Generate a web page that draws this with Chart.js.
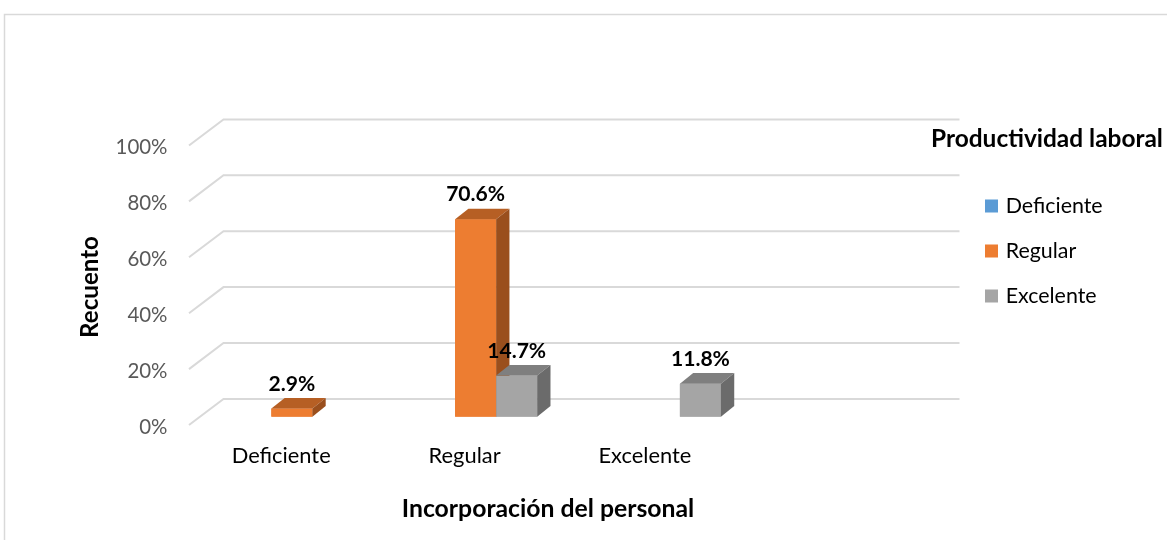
<!DOCTYPE html>
<html>
<head>
<meta charset="utf-8">
<script src="https://cdn.jsdelivr.net/npm/chart.js@4/dist/chart.umd.min.js"></script>
<style>
  html, body { margin: 0; padding: 0; background: #ffffff; }
  #wrap { width: 1167px; height: 540px; position: relative; }
</style>
</head>
<body>
<div id="wrap"><canvas id="c" width="1167" height="540"></canvas></div>
<script>
// ---- Data ----
const categories = ["Deficiente", "Regular", "Excelente", ""];
const seriesNames = ["Deficiente", "Regular", "Excelente"];
const deficienteValues = [0, 0, 0, null];
const regularValues = [2.9, 70.6, 0, null];
const excelenteValues = [0, 14.7, 11.8, null];
const yTickValues = [0, 20, 40, 60, 80, 100];
const xAxisTitle = "Incorporación del personal";
const yAxisTitle = "Recuento";
const legendTitle = "Productividad laboral";

// ---- Styles ----
const frontColors = ["#5B9BD5", "#ED7D31", "#A5A5A5"];
const topColors = ["#41719C", "#B65F24", "#7F7F7F"];
const sideColors = ["#3A6690", "#9A4F1D", "#6B6B6B"];
const FONT = "Lato, 'Open Sans', 'DejaVu Sans', sans-serif";
const DX = 13.3, DY = -10.7;

function fitFont(ctx, text, weight, target) {
  ctx.font = weight + " 20px " + FONT;
  const w = ctx.measureText(text).width;
  const size = 20 * target / w;
  return weight + " " + size.toFixed(2) + "px " + FONT;
}

const plugin3d = {
  id: "excel3d",
  beforeDatasetsDraw(chart) {
    const ctx = chart.ctx;
    const y = chart.scales.y, area = chart.chartArea;
    ctx.save();
    ctx.strokeStyle = "#D9D9D9";
    ctx.lineWidth = 1.5;
    ctx.beginPath();
    ctx.moveTo(4.5, 600); ctx.lineTo(4.5, 14.5); ctx.lineTo(1200, 14.5);
    ctx.stroke();
    ctx.lineWidth = 2;
    yTickValues.forEach(v => {
      const py = y.getPixelForValue(v);
      const backY = py - 17.8, frontY = py + 8.3;
      ctx.beginPath();
      ctx.moveTo(area.left - 11, frontY);
      ctx.lineTo(area.left + 23.5, backY);
      ctx.lineTo(area.right + 24.5, backY);
      ctx.stroke();
    });
    ctx.restore();
  },
  afterDatasetsDraw(chart) {
    const ctx = chart.ctx;
    ctx.save();
    const n = categories.length;
    for (let i = 0; i < n; i++) {
      chart.data.datasets.forEach((ds, di) => {
        const v = ds.data[i];
        if (v === null || v === undefined || v === 0) return;
        const el = chart.getDatasetMeta(di).data[i];
        const left = el.x - el.width / 2, right = el.x + el.width / 2;
        const top = el.y, base = el.base;
        ctx.fillStyle = frontColors[di];
        ctx.fillRect(left, top, right - left, base - top);
        ctx.fillStyle = topColors[di];
        ctx.beginPath();
        ctx.moveTo(left, top); ctx.lineTo(left + DX, top + DY);
        ctx.lineTo(right + DX, top + DY); ctx.lineTo(right, top);
        ctx.closePath(); ctx.fill();
        ctx.fillStyle = sideColors[di];
        ctx.beginPath();
        ctx.moveTo(right, top); ctx.lineTo(right + DX, top + DY);
        ctx.lineTo(right + DX, base + DY); ctx.lineTo(right, base);
        ctx.closePath(); ctx.fill();
      });
    }
    ctx.fillStyle = "#000000";
    ctx.textAlign = "center";
    ctx.textBaseline = "alphabetic";
    ctx.font = fitFont(ctx, "70.6%", "bold", 59);
    chart.data.datasets.forEach((ds, di) => {
      ds.data.forEach((v, i) => {
        if (v === null || v === undefined || v === 0) return;
        const el = chart.getDatasetMeta(di).data[i];
        ctx.fillText(v.toFixed(1) + "%", el.x, el.y - 18);
      });
    });
    ctx.restore();
  },
  afterDraw(chart) {
    const ctx = chart.ctx;
    const x = chart.scales.x, y = chart.scales.y;
    ctx.save();
    ctx.fillStyle = "#595959";
    ctx.textAlign = "right";
    ctx.textBaseline = "alphabetic";
    ctx.font = fitFont(ctx, "100%", "normal", 52);
    yTickValues.forEach(v => {
      ctx.fillText(v + "%", 167.5, y.getPixelForValue(v) + 17);
    });
    ctx.fillStyle = "#000000";
    ctx.textAlign = "center";
    ctx.font = fitFont(ctx, "Deficiente", "normal", 99);
    const catShift = [-10.7, -11, -14.5, -15];
    categories.forEach((c, i) => {
      if (!c) return;
      ctx.fillText(c, x.getPixelForValue(i) + catShift[i], 463);
    });
    ctx.font = fitFont(ctx, xAxisTitle, "bold", 292.6);
    ctx.fillText(xAxisTitle, 548, 517);
    ctx.save();
    ctx.translate(98, 287);
    ctx.rotate(-Math.PI / 2);
    ctx.font = fitFont(ctx, yAxisTitle, "bold", 102);
    ctx.fillText(yAxisTitle, 0, 0);
    ctx.restore();
    ctx.textAlign = "left";
    ctx.font = fitFont(ctx, legendTitle, "bold", 232);
    ctx.fillText(legendTitle, 931, 147);
    ctx.font = fitFont(ctx, "Deficiente", "normal", 97);
    seriesNames.forEach((s, i) => {
      const cy = 206 + i * 45;
      ctx.fillStyle = frontColors[i];
      ctx.fillRect(985, cy - 6.5, 13, 13);
      ctx.fillStyle = "#000000";
      ctx.fillText(s, 1005.7, cy + 7);
    });
    ctx.restore();
  }
};

new Chart(document.getElementById("c"), {
  type: "bar",
  data: {
    labels: categories,
    datasets: [
      { label: seriesNames[0], data: deficienteValues, backgroundColor: frontColors[0] },
      { label: seriesNames[1], data: regularValues, backgroundColor: frontColors[1] },
      { label: seriesNames[2], data: excelenteValues, backgroundColor: frontColors[2] }
    ]
  },
  options: {
    responsive: false,
    animation: false,
    maintainAspectRatio: false,
    layout: { padding: { left: 200, right: 232, top: 137.2, bottom: 123.3 } },
    datasets: { bar: { categoryPercentage: 0.67, barPercentage: 1 } },
    scales: {
      x: { display: false, offset: true },
      y: { display: false, min: 0, max: 100 }
    },
    plugins: { legend: { display: false }, tooltip: { enabled: false } }
  },
  plugins: [plugin3d]
});
</script>
</body>
</html>
